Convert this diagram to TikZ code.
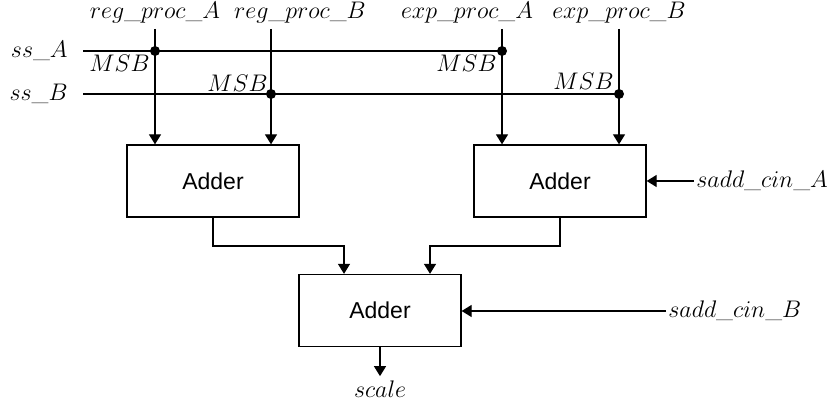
\documentclass[tikz,border=0pt]{standalone}
\usepackage{fontspec}
\newfontfamily\addfont{Liberation Sans}
\usepackage{tikz}
\usetikzlibrary{positioning,arrows.meta}
\tikzset{
  sig/.style={-{Triangle[length=5pt,width=6pt]},line width=0.65pt},
  wire/.style={line width=0.65pt},
  adder/.style={draw,line width=0.65pt,minimum width=86pt,minimum height=36pt,
    inner sep=0pt,font=\addfont\fontsize{11.5}{14}\selectfont},
  jn/.style={circle,fill=black,inner sep=0pt,minimum size=5pt}, % junction dot
  lbl/.style={font=\fontsize{11.5}{14}\selectfont,inner sep=1pt},
}

\begin{document}
\begin{tikzpicture}[x=0.5pt,y=-0.5pt]
  \useasboundingbox (0,0) rectangle (838,410);
  % adders
  \node[adder] (add1) at (213,181) {Adder};
  \node[adder] (add2) at (560,181) {Adder};
  \node[adder,minimum width=81pt] (add3) at (380,310.5) {Adder};
  % operand labels
  \node[lbl,anchor=base] (regA) at (155,19) {$reg\_proc\_A$};
  \node[lbl,anchor=base] (regB) at (300,19) {$reg\_proc\_B$};
  \node[lbl,anchor=base] (expA) at (467,19) {$exp\_proc\_A$};
  \node[lbl,anchor=base] (expB) at (619,19) {$exp\_proc\_B$};
  \coordinate (rA) at (155,29);
  \coordinate (rB) at (271,29);
  \coordinate (eA) at (502,29);
  \coordinate (eB) at (619,29);
  % sign signals
  \node[lbl,anchor=east] (ssA) at (70,51) {$ss\_A$};
  \node[lbl,anchor=east] (ssB) at (70,94) {$ss\_B$};
  \coordinate (ssA0) at (83,51);
  \coordinate (ssB0) at (83,94);
  \node[jn] (jA1) at (155,51) {};
  \node[jn] (jA2) at (502,51) {};
  \node[jn] (jB1) at (271,94) {};
  \node[jn] (jB2) at (619,94) {};
  \draw[wire] (ssA0) -- (jA2.center);
  \draw[wire] (ssB0) -- (jB2.center);
  \node[lbl,anchor=north east] (msbA1) at (152,53) {$MSB$};
  \node[lbl,anchor=south east] (msbB1) at (270,94) {$MSB$};
  \node[lbl,anchor=north east] (msbA2) at (499,53) {$MSB$};
  \node[lbl,anchor=south east] (msbB2) at (616,92) {$MSB$};
  % inputs into first stage
  \draw[sig] (rA) -- (rA |- add1.north);
  \draw[sig] (rB) -- (rB |- add1.north);
  \draw[sig] (eA) -- (eA |- add2.north);
  \draw[sig] (eB) -- (eB |- add2.north);
  % carry inputs
  \node[lbl,anchor=west] (cinA) at (694,181) {$sadd\_cin\_A$};
  \node[lbl,anchor=west] (cinB) at (666,311) {$sadd\_cin\_B$};
  \draw[sig] (cinA.west) -- (add2.east |- cinA.west);
  \draw[sig] (cinB.west) -- (add3.east |- cinB.west);
  % second stage
  \coordinate (in1) at (344,246);
  \coordinate (in2) at (430,246);
  \draw[sig] (add1.south) |- (in1) -- (in1 |- add3.north);
  \draw[sig] (add2.south) |- (in2) -- (in2 |- add3.north);
  % output
  \node[lbl,anchor=base] (scale) at (380,397) {$scale$};
  \draw[sig] (add3.south) -- ++(0,29);
\end{tikzpicture}
\end{document}
